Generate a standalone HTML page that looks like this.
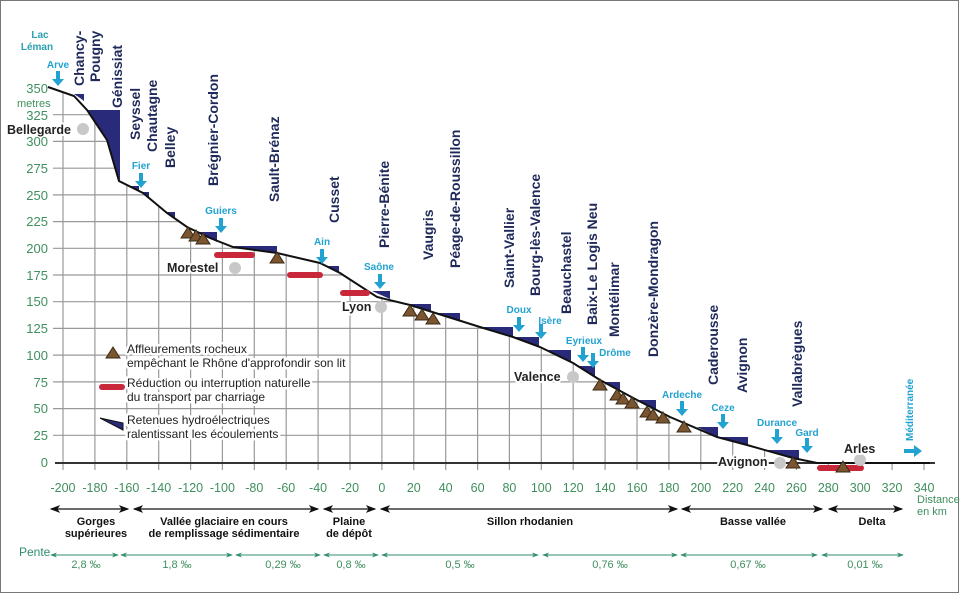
<!DOCTYPE html>
<html><head><meta charset="utf-8"><style>
html,body{margin:0;padding:0;background:#fff}
svg{display:block;font-family:"Liberation Sans",sans-serif}
.dam{font-weight:bold;font-size:14px;fill:#1f2a5a}
.riv{font-weight:bold;font-size:10px;fill:#22a2d0}
.yl{font-size:13px;fill:#3f8f5f;text-anchor:end}
.xl{font-size:12.5px;fill:#3f8f5f;text-anchor:middle}
.sec{font-weight:bold;font-size:11px;fill:#111;text-anchor:middle}
.pe{font-size:11px;fill:#3f8f5f;text-anchor:middle}
.leg{font-size:12px;fill:#222;paint-order:stroke;stroke:#fff;stroke-width:5px;stroke-linejoin:round}
.city{font-weight:bold;font-size:12.5px;fill:#222;paint-order:stroke;stroke:#fff;stroke-width:4px;stroke-linejoin:round}
</style></head><body>
<svg width="960" height="593" viewBox="0 0 960 593" xmlns="http://www.w3.org/2000/svg">
<defs>
<clipPath id="c"><polygon points="48,87 74,96 87,110 107,140 119,181 143,193 167,213 187,227 210,238 233,247 277,253 320,263 340,273 377,297 410,305 480,327 513,337 540,347 573,363 600,380 637,400 670,417 717,437 747,445 793,458 817,463 935,463 935,470 40,470 40,87"/></clipPath>
<marker id="ab" markerWidth="8" markerHeight="6" refX="7" refY="3" orient="auto"><path d="M0,0 L8,3 L0,6 L2,3z" fill="#111"/></marker>
<marker id="abs" markerWidth="8" markerHeight="6" refX="1" refY="3" orient="auto"><path d="M8,0 L0,3 L8,6 L6,3z" fill="#111"/></marker>
<marker id="ag" markerWidth="7" markerHeight="5" refX="6" refY="2.5" orient="auto"><path d="M0,0 L7,2.5 L0,5 L2,2.5z" fill="#2f8f6a"/></marker>
<marker id="ags" markerWidth="7" markerHeight="5" refX="1" refY="2.5" orient="auto"><path d="M7,0 L0,2.5 L7,5 L5,2.5z" fill="#2f8f6a"/></marker>
<g id="tri"><polygon points="-7,5 0,-6 7,5" fill="#7a5530" stroke="#3a2a15" stroke-width="1"/></g>
<g id="ar"><rect x="-2" y="0" width="4" height="9" fill="#22a2d0"/><polygon points="-6,8 6,8 0,15" fill="#22a2d0"/></g>
</defs>
<rect x="0.5" y="0.5" width="958" height="592" fill="#fff" stroke="#777"/>
<g clip-path="url(#c)" stroke="#999" stroke-width="1.2">
<line x1="53" y1="435.3" x2="935" y2="435.3"/><line x1="53" y1="408.6" x2="935" y2="408.6"/><line x1="53" y1="381.9" x2="935" y2="381.9"/><line x1="53" y1="355.1" x2="935" y2="355.1"/><line x1="53" y1="328.4" x2="935" y2="328.4"/><line x1="53" y1="301.7" x2="935" y2="301.7"/><line x1="53" y1="275" x2="935" y2="275"/><line x1="53" y1="248.3" x2="935" y2="248.3"/><line x1="53" y1="221.6" x2="935" y2="221.6"/><line x1="53" y1="194.9" x2="935" y2="194.9"/><line x1="53" y1="168.2" x2="935" y2="168.2"/><line x1="53" y1="141.4" x2="935" y2="141.4"/><line x1="53" y1="114.7" x2="935" y2="114.7"/><line x1="53" y1="88" x2="935" y2="88"/>
<line x1="63" y1="60" x2="63" y2="470"/><line x1="94.9" y1="60" x2="94.9" y2="470"/><line x1="126.8" y1="60" x2="126.8" y2="470"/><line x1="158.7" y1="60" x2="158.7" y2="470"/><line x1="190.6" y1="60" x2="190.6" y2="470"/><line x1="222.4" y1="60" x2="222.4" y2="470"/><line x1="254.3" y1="60" x2="254.3" y2="470"/><line x1="286.2" y1="60" x2="286.2" y2="470"/><line x1="318.1" y1="60" x2="318.1" y2="470"/><line x1="350" y1="60" x2="350" y2="470"/><line x1="381.9" y1="60" x2="381.9" y2="470"/><line x1="413.8" y1="60" x2="413.8" y2="470"/><line x1="445.7" y1="60" x2="445.7" y2="470"/><line x1="477.6" y1="60" x2="477.6" y2="470"/><line x1="509.4" y1="60" x2="509.4" y2="470"/><line x1="541.3" y1="60" x2="541.3" y2="470"/><line x1="573.2" y1="60" x2="573.2" y2="470"/><line x1="605.1" y1="60" x2="605.1" y2="470"/><line x1="637" y1="60" x2="637" y2="470"/><line x1="668.9" y1="60" x2="668.9" y2="470"/><line x1="700.8" y1="60" x2="700.8" y2="470"/><line x1="732.7" y1="60" x2="732.7" y2="470"/><line x1="764.6" y1="60" x2="764.6" y2="470"/><line x1="796.4" y1="60" x2="796.4" y2="470"/><line x1="828.3" y1="60" x2="828.3" y2="470"/><line x1="860.2" y1="60" x2="860.2" y2="470"/><line x1="892.1" y1="60" x2="892.1" y2="470"/><line x1="924" y1="60" x2="924" y2="470"/>
</g>
<line x1="55" y1="463" x2="935" y2="463" stroke="#333" stroke-width="2"/>
<g fill="#2a2a7a">
<polygon points="74,94 84,94 84,101 80,98"/>
<polygon points="87,110 120,110 120,181 107,140"/>
<polygon points="127,186 139,186 139,191"/><polygon points="141,192 149,192 149,199"/>
<polygon points="165,212 175,212 175,218"/><polygon points="198,232 217,232 217,242"/>
<polygon points="233,246 277,246 277,253"/><polygon points="325,266 339,266 339,273"/>
<polygon points="372,291 390,291 390,299"/><polygon points="409,304 431,304 431,311"/>
<polygon points="436,313 460,313 460,321"/><polygon points="480,327 513,327 513,337"/>
<polygon points="513,337 539,337 539,347"/><polygon points="545,350 571,350 571,362"/>
<polygon points="577,366 595,366 595,376"/><polygon points="603,382 620,382 620,391"/>
<polygon points="637,400 656,400 656,410"/><polygon points="697,427 718,427 718,437"/>
<polygon points="719,437 748,437 748,445"/><polygon points="764,450 799,450 799,459"/>
</g>
<polyline fill="none" stroke="#111" stroke-width="2" points="48,87 74,96 87,110 107,140 119,181 143,193 167,213 187,227 210,238 233,247 277,253 320,263 340,273 377,297 410,305 480,327 513,337 540,347 573,363 600,380 637,400 670,417 717,437 747,445 793,458 817,463 930,463"/>
<g stroke="#c8283a" stroke-width="6" stroke-linecap="round">
<line x1="217" y1="255" x2="252" y2="255"/><line x1="290" y1="275" x2="320" y2="275"/>
<line x1="343" y1="293" x2="367" y2="293"/><line x1="820" y1="468" x2="861" y2="468"/>
<line x1="102" y1="387" x2="122" y2="387"/>
</g>
<use href="#tri" x="188" y="233"/><use href="#tri" x="196" y="236"/><use href="#tri" x="203" y="239"/>
<use href="#tri" x="277" y="258"/><use href="#tri" x="410" y="311"/><use href="#tri" x="422" y="315"/><use href="#tri" x="433" y="319"/>
<use href="#tri" x="600" y="385"/><use href="#tri" x="617" y="395"/><use href="#tri" x="623" y="399"/><use href="#tri" x="632" y="403"/>
<use href="#tri" x="647" y="412"/><use href="#tri" x="653" y="415"/><use href="#tri" x="663" y="418"/><use href="#tri" x="684" y="427"/>
<use href="#tri" x="793" y="463"/><use href="#tri" x="843" y="467"/><use href="#tri" x="113" y="353"/>
<polygon points="100,418 123,423 123,430" fill="#2a2a7a" stroke="#111"/>
<g fill="#c8c8c8"><circle cx="83" cy="129" r="6"/><circle cx="235" cy="268" r="6"/><circle cx="381" cy="307" r="6"/><circle cx="573" cy="377" r="6"/><circle cx="780" cy="463" r="6"/><circle cx="860" cy="460" r="6"/></g>
<text class="leg" x="127" y="353">Affleurements rocheux</text>
<text class="leg" x="127" y="367">empêchant le Rhône d'approfondir son lit</text>
<text class="leg" x="127" y="387">Réduction ou interruption naturelle</text>
<text class="leg" x="127" y="401">du transport par charriage</text>
<text class="leg" x="127" y="424">Retenues hydroélectriques</text>
<text class="leg" x="127" y="438">ralentissant les écoulements</text>
<text class="city" x="7" y="134">Bellegarde</text>
<text class="city" x="167" y="272">Morestel</text>
<text class="city" x="342" y="311">Lyon</text>
<text class="city" x="514" y="381">Valence</text>
<text class="city" x="718" y="466">Avignon</text>
<text class="city" x="844" y="453">Arles</text>
<text class="riv" x="40" y="38" text-anchor="middle" style="fill:#2aa0b0">Lac</text>
<text class="riv" x="37" y="50" text-anchor="middle" style="fill:#2aa0b0">Léman</text>
<g class="riv" text-anchor="middle">
<text x="58" y="68">Arve</text><text x="141" y="169">Fier</text><text x="221" y="214">Guiers</text><text x="322" y="245">Ain</text><text x="379" y="270">Saône</text><text x="519" y="313">Doux</text><text x="550" y="324">Isère</text><text x="584" y="344">Eyrieux</text><text x="615" y="356">Drôme</text><text x="682" y="398">Ardeche</text><text x="723" y="411">Ceze</text><text x="777" y="426">Durance</text><text x="807" y="436">Gard</text>
</g>
<use href="#ar" x="58" y="71"/><use href="#ar" x="141" y="173"/><use href="#ar" x="221" y="218"/><use href="#ar" x="322" y="249"/><use href="#ar" x="380" y="274"/><use href="#ar" x="519" y="317"/><use href="#ar" x="541" y="324"/><use href="#ar" x="583" y="347"/><use href="#ar" x="593" y="353"/><use href="#ar" x="682" y="401"/><use href="#ar" x="723" y="414"/><use href="#ar" x="777" y="429"/><use href="#ar" x="807" y="438"/>
<polygon points="904,449 914,449 914,445 922,451 914,457 914,453 904,453" fill="#22a2d0"/>
<text class="riv" transform="translate(913,441) rotate(-90)">Méditerranée</text>
<g class="dam">
<text transform="translate(84,86) rotate(-90)">Chancy-</text>
<text transform="translate(100,82) rotate(-90)">Pougny</text>
<text transform="translate(122,108) rotate(-90)">Génissiat</text>
<text transform="translate(140,140) rotate(-90)">Seyssel</text>
<text transform="translate(157,152) rotate(-90)">Chautagne</text>
<text transform="translate(175,168) rotate(-90)">Belley</text>
<text transform="translate(218,186) rotate(-90)">Brégnier-Cordon</text>
<text transform="translate(279,202) rotate(-90)">Sault-Brénaz</text>
<text transform="translate(339,223) rotate(-90)">Cusset</text>
<text transform="translate(389,248) rotate(-90)">Pierre-Bénite</text>
<text transform="translate(433,260) rotate(-90)">Vaugris</text>
<text transform="translate(460,268) rotate(-90)">Péage-de-Roussillon</text>
<text transform="translate(514,288) rotate(-90)">Saint-Vallier</text>
<text transform="translate(540,296) rotate(-90)">Bourg-lès-Valence</text>
<text transform="translate(571,314) rotate(-90)">Beauchastel</text>
<text transform="translate(597,325) rotate(-90)">Baix-Le Logis Neu</text>
<text transform="translate(619,337) rotate(-90)">Montélimar</text>
<text transform="translate(658,357) rotate(-90)">Donzère-Mondragon</text>
<text transform="translate(718,385) rotate(-90)">Caderousse</text>
<text transform="translate(747,393) rotate(-90)">Avignon</text>
<text transform="translate(802,407) rotate(-90)">Vallabrègues</text>
</g>
<g class="yl">
<text x="48" y="93">350</text><text x="48" y="120">325</text><text x="48" y="146">300</text><text x="48" y="173">275</text><text x="48" y="200">250</text><text x="48" y="226">225</text><text x="48" y="253">200</text><text x="48" y="280">175</text><text x="48" y="306">150</text><text x="48" y="333">125</text><text x="48" y="360">100</text><text x="48" y="387">75</text><text x="48" y="413">50</text><text x="48" y="440">25</text><text x="48" y="467">0</text>
</g>
<text x="17" y="107" style="font-size:11px;fill:#3f8f5f">metres</text>
<g class="xl">
<text x="63" y="492">-200</text><text x="94.9" y="492">-180</text><text x="126.8" y="492">-160</text><text x="158.7" y="492">-140</text><text x="190.6" y="492">-120</text><text x="222.4" y="492">-100</text><text x="254.3" y="492">-80</text><text x="286.2" y="492">-60</text><text x="318.1" y="492">-40</text><text x="350" y="492">-20</text><text x="381.9" y="492">0</text><text x="413.8" y="492">20</text><text x="445.7" y="492">40</text><text x="477.6" y="492">60</text><text x="509.4" y="492">80</text><text x="541.3" y="492">100</text><text x="573.2" y="492">120</text><text x="605.1" y="492">140</text><text x="637" y="492">160</text><text x="668.9" y="492">180</text><text x="700.8" y="492">200</text><text x="732.7" y="492">220</text><text x="764.6" y="492">240</text><text x="796.4" y="492">260</text><text x="828.3" y="492">280</text><text x="860.2" y="492">300</text><text x="892.1" y="492">320</text><text x="924" y="492">340</text>
</g>
<text x="917" y="503" style="font-size:11px;fill:#3f8f5f">Distance</text>
<text x="917" y="515" style="font-size:11px;fill:#3f8f5f">en km</text>
<g stroke="#111" stroke-width="1.3" marker-start="url(#abs)" marker-end="url(#ab)">
<line x1="51" y1="509" x2="128" y2="509"/><line x1="134" y1="509" x2="318" y2="509"/><line x1="324" y1="509" x2="375" y2="509"/><line x1="381" y1="509" x2="677" y2="509"/><line x1="682" y1="509" x2="822" y2="509"/><line x1="829" y1="509" x2="902" y2="509"/>
</g>
<g class="sec">
<text x="96" y="525">Gorges</text><text x="96" y="537">supérieures</text>
<text x="224" y="525">Vallée glaciaire en cours</text><text x="224" y="537">de remplissage sédimentaire</text>
<text x="349" y="525">Plaine</text><text x="349" y="537">de dépôt</text>
<text x="530" y="525">Sillon rhodanien</text><text x="753" y="525">Basse vallée</text><text x="872" y="525">Delta</text>
</g>
<text x="19" y="556" style="font-size:12px;fill:#2f8f6a">Pente</text>
<g stroke="#2f8f6a" stroke-width="1" marker-start="url(#ags)" marker-end="url(#ag)">
<line x1="51" y1="555" x2="118" y2="555"/><line x1="121" y1="555" x2="232" y2="555"/><line x1="236" y1="555" x2="320" y2="555"/><line x1="324" y1="555" x2="378" y2="555"/><line x1="382" y1="555" x2="538" y2="555"/><line x1="543" y1="555" x2="677" y2="555"/><line x1="681" y1="555" x2="817" y2="555"/><line x1="822" y1="555" x2="903" y2="555"/>
</g>
<g class="pe">
<text x="86" y="568">2,8 ‰</text><text x="177" y="568">1,8 ‰</text><text x="283" y="568">0,29 ‰</text><text x="351" y="568">0,8 ‰</text><text x="460" y="568">0,5 ‰</text><text x="610" y="568">0,76 ‰</text><text x="748" y="568">0,67 ‰</text><text x="865" y="568">0,01 ‰</text>
</g>
</svg>
</body></html>
